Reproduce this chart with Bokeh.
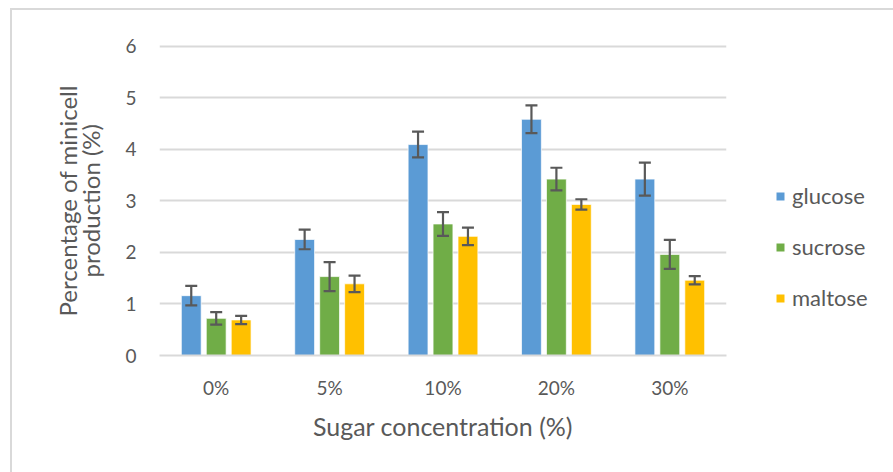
import math
from bokeh.plotting import figure
from bokeh.models import (ColumnDataSource, FactorRange, Range1d, Whisker, TeeHead, Legend,
                          LegendItem, FixedTicker, Spacer)
from bokeh.core.properties import value
from bokeh.layouts import row, column
from bokeh.transform import dodge
from bokeh.embed import file_html
from bokeh.resources import INLINE

categories = ["0%", "5%", "10%", "20%", "30%"]
glucose = [1.16, 2.25, 4.09, 4.58, 3.42]
glucose_err = [0.19, 0.19, 0.25, 0.27, 0.32]
sucrose = [0.72, 1.53, 2.55, 3.42, 1.96]
sucrose_err = [0.12, 0.28, 0.23, 0.22, 0.28]
maltose = [0.69, 1.39, 2.31, 2.93, 1.46]
maltose_err = [0.08, 0.16, 0.17, 0.10, 0.08]
series_names = ["glucose", "sucrose", "maltose"]
colors = ["#5B9BD5", "#70AD47", "#FFC000"]
y_ticks = [0, 1, 2, 3, 4, 5, 6]
y_title_lines = ["Percentage of minicell", "production (%)"]
x_title = "Sugar concentration (%)"

FONT = "Lato"
GRAY = "#595959"
BORDER = "#d9d9d9"

data = dict(cat=categories)
for name, vals, errs in [("glucose", glucose, glucose_err),
                         ("sucrose", sucrose, sucrose_err),
                         ("maltose", maltose, maltose_err)]:
    data[name] = vals
    data[name + "_lo"] = [v - e for v, e in zip(vals, errs)]
    data[name + "_hi"] = [v + e for v, e in zip(vals, errs)]
src = ColumnDataSource(data)

TOP, BOTTOM = 34, 117
P_H = 462
Y_W = 110          # y-title panel width
P_W = 630          # main chart width
y_range = Range1d(0, 6.03)

p = figure(width=P_W, height=P_H, output_backend="svg", toolbar_location=None,
           x_range=FactorRange(factors=categories, range_padding=0),
           y_range=y_range,
           min_border_left=34, min_border_right=26,
           min_border_top=TOP, min_border_bottom=BOTTOM)
p.outline_line_color = None
p.background_fill_color = "white"
p.border_fill_color = "white"

p.xgrid.grid_line_color = None
p.ygrid.grid_line_color = BORDER
p.ygrid.grid_line_width = 2
p.yaxis.ticker = FixedTicker(ticks=y_ticks)

offsets = [-0.22, 0.0, 0.22]
for name, col, off in zip(series_names, colors, offsets):
    p.vbar(x=dodge("cat", off, range=p.x_range), top=name, width=0.175,
           source=src, fill_color=col, line_color="white", line_alpha=0.7, line_width=1)
    w = Whisker(base=dodge("cat", off, range=p.x_range), lower=name + "_lo", upper=name + "_hi",
                source=src, line_color=GRAY, line_width=2.2, level="overlay",
                upper_head=TeeHead(size=12, line_color=GRAY, line_width=2.2),
                lower_head=TeeHead(size=12, line_color=GRAY, line_width=2.2))
    p.add_layout(w)

for ax in (p.xaxis, p.yaxis):
    ax.major_tick_line_color = None
    ax.minor_tick_line_color = None
    ax.major_label_text_font = FONT
    ax.major_label_text_font_size = "19px"
    ax.major_label_text_color = GRAY
    ax.axis_label_text_font = FONT
    ax.axis_label_text_color = GRAY
    ax.axis_label_text_font_style = "normal"

p.yaxis.axis_line_color = None
p.yaxis.major_label_standoff = 17
p.xaxis.axis_line_color = BORDER
p.xaxis.axis_line_width = 2
p.xaxis.major_label_standoff = 14
p.xaxis.axis_label = x_title
p.xaxis.axis_label_text_font_size = "25px"
p.xaxis.axis_label_standoff = 9

# y-axis title panel (shares the y range, so it is centred on the plot frame)
yt = figure(width=Y_W, height=P_H, output_backend="svg", toolbar_location=None,
            x_range=Range1d(0, Y_W), y_range=y_range,
            x_axis_location=None, y_axis_location=None,
            min_border_left=0, min_border_right=0,
            min_border_top=TOP, min_border_bottom=BOTTOM)
yt.outline_line_color = None
yt.grid.visible = False
y_mid = (y_ticks[0] + y_ticks[-1]) / 2
yt.text(x=[55, 78], y=[y_mid, y_mid], text=y_title_lines, angle=math.pi / 2,
        text_align="center", text_baseline="middle",
        text_font=value(FONT), text_font_size="24px", text_color=GRAY)

# legend panel
L_W = 893 - 12 - Y_W - P_W
lg = figure(width=L_W, height=P_H, output_backend="svg", toolbar_location=None,
            x_range=Range1d(0, 1), y_range=Range1d(0, 1),
            x_axis_location=None, y_axis_location=None, min_border=0)
lg.outline_line_color = None
lg.grid.visible = False
items = []
for name, col in zip(series_names, colors):
    r = lg.vbar(x=[0.5], top=[0], bottom=[0], width=0.01, fill_color=col, line_color=None)
    items.append(LegendItem(label=name, renderers=[r]))
legend = Legend(items=items, location=(23, 44), padding=0, margin=0,
                glyph_width=10, glyph_height=10, label_height=20, spacing=24,
                label_standoff=7, label_text_font=FONT, label_text_font_size="22px",
                label_text_color=GRAY, border_line_color=None, background_fill_alpha=0)
lg.add_layout(legend, "center")

bg = {"background-color": BORDER}
layout = column(
    Spacer(height=8, width=893),
    row(Spacer(width=10, height=464),
        column(Spacer(height=2, width=883, styles=bg),
               row(Spacer(width=2, height=P_H, styles=bg), yt, p, lg))),
)

open("out.html", "w").write(file_html(layout, INLINE))
